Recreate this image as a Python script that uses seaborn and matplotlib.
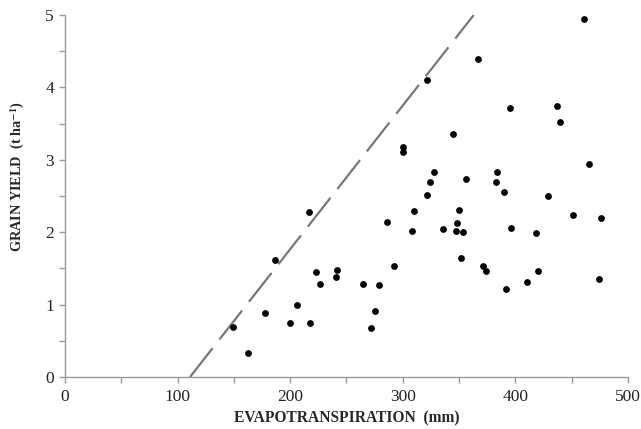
import matplotlib
matplotlib.use("Agg")
import matplotlib.pyplot as plt
from matplotlib.ticker import MultipleLocator
import pandas as pd
import seaborn as sns

# --- data ---
et_mm = [149.5, 162.8, 177.6, 186.5, 199.8, 205.8, 216.9, 217.6, 222.9, 226.5,
         240.7, 241.8, 264.7, 271.5, 275.0, 278.6, 286.0, 292.5, 299.9, 300.4,
         308.5, 309.7, 321.2, 321.2, 324.2, 327.7, 335.4, 344.9, 347.0, 347.9,
         349.6, 352.0, 353.7, 356.1, 366.5, 371.5, 373.9, 383.1, 383.4, 389.6,
         391.9, 395.5, 396.4, 410.6, 418.0, 420.3, 429.2, 436.7, 439.6, 451.2,
         460.9, 465.4, 474.2, 475.7]
grain_yield = [0.69, 0.33, 0.89, 1.62, 0.75, 1.00, 2.28, 0.74, 1.45, 1.29,
               1.38, 1.48, 1.28, 0.67, 0.91, 1.27, 2.14, 1.54, 3.11, 3.18,
               2.02, 2.29, 2.51, 4.10, 2.70, 2.83, 2.05, 3.36, 2.02, 2.13,
               2.31, 1.65, 2.00, 2.73, 4.39, 1.54, 1.47, 2.69, 2.83, 2.56,
               1.22, 3.72, 2.06, 1.31, 1.99, 1.46, 2.50, 3.74, 3.52, 2.24,
               4.94, 2.94, 1.36, 2.20]

# boundary line (water-limited yield)
boundary_et = [111, 363]
boundary_yield = [0, 5]

df = pd.DataFrame({"ET": et_mm, "Yield": grain_yield})
bound_df = pd.DataFrame({"ET": boundary_et, "Yield": boundary_yield})

# --- style ---
sns.set_style("ticks")
plt.rcParams["font.family"] = ["Liberation Serif", "DejaVu Serif"]
plt.rcParams["mathtext.fontset"] = "stix"

fig = plt.figure(figsize=(6.41, 4.29), dpi=100)
ax = fig.add_axes([0.1014, 0.1212, 0.8783, 0.8438])

sns.lineplot(data=bound_df, x="ET", y="Yield", ax=ax, color="#777777",
             linewidth=1.6, dashes=False)
ax.lines[0].set_dashes((16.5, 5))
sns.scatterplot(data=df, x="ET", y="Yield", ax=ax, color="black", s=24,
                edgecolor="black", linewidth=0, zorder=3, clip_on=False)

ax.set_xlim(0, 500)
ax.set_ylim(0, 5)
ax.xaxis.set_major_locator(MultipleLocator(100))
ax.xaxis.set_minor_locator(MultipleLocator(50))
ax.yaxis.set_major_locator(MultipleLocator(1))
ax.yaxis.set_minor_locator(MultipleLocator(0.5))

sns.despine(ax=ax)
for side in ["left", "bottom"]:
    ax.spines[side].set_color("#9a9a9a")
    ax.spines[side].set_linewidth(1.0)
ax.tick_params(which="both", direction="out", length=4.5, width=1.0,
               color="#9a9a9a", labelsize=12.5, labelcolor="#222222")
ax.tick_params(axis="x", pad=4)

ax.set_xlabel("EVAPOTRANSPIRATION  (mm)", fontsize=11.2, fontweight="bold",
              labelpad=4)
ax.set_ylabel(r"GRAIN YIELD  (t ha$^{\mathbf{-1}}$)", fontsize=10.3,
              fontweight="bold")
ax.yaxis.set_label_coords(-0.068, 0.555)

fig.savefig("out.png", dpi=100)
